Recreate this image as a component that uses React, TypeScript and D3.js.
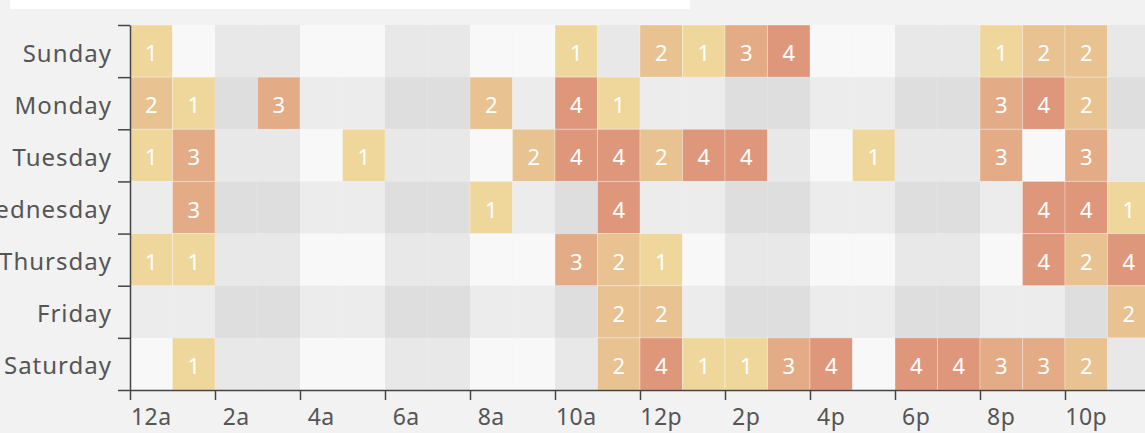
import React, { useEffect, useRef } from 'react';
import * as d3 from 'd3';

const days = ['Sunday', 'Monday', 'Tuesday', 'Wednesday', 'Thursday', 'Friday', 'Saturday'];
const hourLabels = ['12a', '2a', '4a', '6a', '8a', '10a', '12p', '2p', '4p', '6p', '8p', '10p'];

const sunday = [1, 0, 0, 0, 0, 0, 0, 0, 0, 0, 1, 0, 2, 1, 3, 4, 0, 0, 0, 0, 1, 2, 2, 0];
const monday = [2, 1, 0, 3, 0, 0, 0, 0, 2, 0, 4, 1, 0, 0, 0, 0, 0, 0, 0, 0, 3, 4, 2, 0];
const tuesday = [1, 3, 0, 0, 0, 1, 0, 0, 0, 2, 4, 4, 2, 4, 4, 0, 0, 1, 0, 0, 3, 0, 3, 0];
const wednesday = [0, 3, 0, 0, 0, 0, 0, 0, 1, 0, 0, 4, 0, 0, 0, 0, 0, 0, 0, 0, 0, 4, 4, 1];
const thursday = [1, 1, 0, 0, 0, 0, 0, 0, 0, 0, 3, 2, 1, 0, 0, 0, 0, 0, 0, 0, 0, 4, 2, 4];
const friday = [0, 0, 0, 0, 0, 0, 0, 0, 0, 0, 0, 2, 2, 0, 0, 0, 0, 0, 0, 0, 0, 0, 0, 2];
const saturday = [0, 1, 0, 0, 0, 0, 0, 0, 0, 0, 0, 2, 4, 1, 1, 3, 4, 0, 4, 4, 3, 3, 2, 0];

const rows = [sunday, monday, tuesday, wednesday, thursday, friday, saturday];

const valueColors = ['#efd79b', '#e8c291', '#e4ac86', '#df977c'];

const App = () => {
  const ref = useRef<SVGSVGElement | null>(null);

  useEffect(() => {
    const svg = d3.select(ref.current);
    svg.selectAll('*').remove();

    const left = 130;
    const top = 25;
    const bottom = 390;
    const hours = d3.range(24);

    const x = d3.scaleBand<number>().domain(hours).range([left, left + 24 * 42.5]);
    const y = d3.scaleBand<string>().domain(days).range([top, bottom]);
    const color = d3.scaleOrdinal<number, string>().domain([1, 2, 3, 4]).range(valueColors);

    // page strip at the top
    svg.append('rect').attr('x', 10).attr('y', 0).attr('width', 680).attr('height', 9).attr('fill', '#ffffff');

    const cells = rows.flatMap((r, di) => r.map((v, h) => ({ day: days[di], di, h, v })));

    // grey background pattern
    const bg = (di: number, h: number) => {
      const oddRow = di % 2 === 1;
      const oddBlock = Math.floor(h / 2) % 2 === 1;
      if (!oddRow && !oddBlock) return '#f8f8f8';
      if (!oddRow && oddBlock) return '#e8e8e8';
      if (oddRow && !oddBlock) return '#ececec';
      return '#dedede';
    };

    svg
      .append('g')
      .selectAll('rect')
      .data(cells)
      .join('rect')
      .attr('x', (d) => x(d.h)!)
      .attr('y', (d) => y(d.day)!)
      .attr('width', x.bandwidth())
      .attr('height', y.bandwidth())
      .attr('fill', (d) => (d.v > 0 ? color(d.v) : bg(d.di, d.h)))
      .attr('stroke', (d) => (d.v > 0 ? 'rgba(255,255,255,0.3)' : 'none'))
      .attr('stroke-width', 1);

    svg
      .append('g')
      .selectAll('text')
      .data(cells.filter((d) => d.v > 0))
      .join('text')
      .attr('x', (d) => x(d.h)! + x.bandwidth() / 2)
      .attr('y', (d) => y(d.day)! + y.bandwidth() / 2 + 1)
      .attr('text-anchor', 'middle')
      .attr('dominant-baseline', 'central')
      .attr('fill', '#ffffff')
      .style('font-family', '"Noto Sans", sans-serif')
      .style('font-size', '22px')
      .text((d) => d.v);

    // axes: ticks on the cell boundaries
    const yEdge = d3.scaleLinear().domain([0, 7]).range([top, bottom]);
    const yAxis = d3.axisLeft(yEdge).tickValues(d3.range(8)).tickFormat(() => '').tickSize(12).tickSizeOuter(0);
    const gy = svg.append('g').attr('transform', `translate(${left},0)`).call(yAxis);
    gy.selectAll('path, line').attr('stroke', '#444').attr('stroke-width', 1.5);

    const xEdge = d3.scaleLinear().domain([0, 24]).range([left, left + 24 * 42.5]);
    const xAxis = d3.axisBottom(xEdge).tickValues(d3.range(0, 24, 2)).tickFormat(() => '').tickSize(10).tickSizeOuter(0);
    const gx = svg.append('g').attr('transform', `translate(0,${bottom})`).call(xAxis);
    gx.selectAll('path, line').attr('stroke', '#444').attr('stroke-width', 1.5);

    svg
      .append('g')
      .selectAll('text')
      .data(days)
      .join('text')
      .attr('x', 112)
      .attr('y', (d) => y(d)! + y.bandwidth() / 2 + 1)
      .attr('text-anchor', 'end')
      .attr('dominant-baseline', 'central')
      .attr('fill', '#555')
      .style('font-family', '"Noto Sans", sans-serif')
      .style('font-size', '24px')
      .style('letter-spacing', '1px')
      .text((d) => d);

    svg
      .append('g')
      .selectAll('text')
      .data(hourLabels)
      .join('text')
      .attr('x', (d, i) => x(i * 2)! + x.bandwidth() / 2)
      .attr('y', 425)
      .attr('text-anchor', 'middle')
      .attr('fill', '#555')
      .style('font-family', '"Noto Sans", sans-serif')
      .style('font-size', '23px')
      .style('letter-spacing', '0.5px')
      .text((d) => d);
  }, []);

  return (
    <div style={{ position: 'fixed', left: 0, top: 0, width: 1145, height: 433, background: '#f2f2f2', overflow: 'hidden' }}>
      <svg ref={ref} width={1145} height={433} style={{ display: 'block' }} />
    </div>
  );
};

export default App;
